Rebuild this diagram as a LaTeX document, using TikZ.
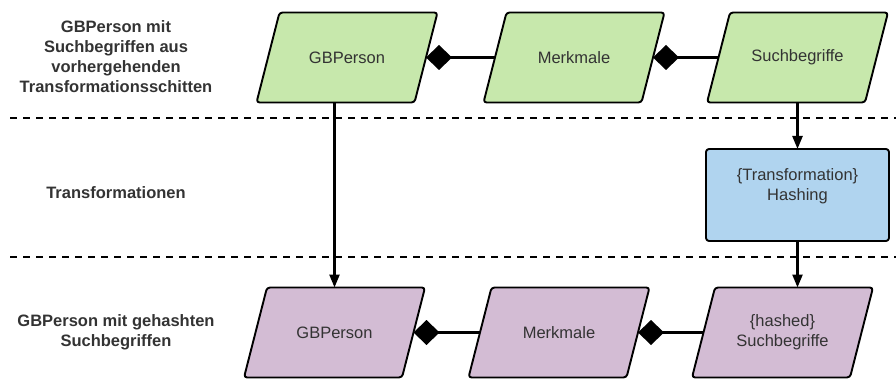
\documentclass[tikz,border=0pt]{standalone}
\usepackage{fontspec}
\setmainfont{Liberation Sans}
\usetikzlibrary{arrows.meta,backgrounds}
\definecolor{gfill}{RGB}{199,232,172}
\definecolor{bfill}{RGB}{176,212,239}
\definecolor{pfill}{RGB}{211,188,212}
\definecolor{txt}{RGB}{51,51,51}
\newcommand\paraframe[2]{%
  \begin{scope}[on background layer]
  \draw[frame, fill=#2] ([xshift=11.5pt]#1.north west) -- ([xshift=11.5pt]#1.north east)
     -- ([xshift=-11.5pt]#1.south east) -- ([xshift=-11.5pt]#1.south west) -- cycle;
  \end{scope}}
\begin{document}
\begin{tikzpicture}[x=1pt,y=-1pt,
  frame/.style={draw=black, line width=1.9pt, rounded corners=3pt, line join=round},
  para/.style={rectangle, minimum width=158pt, minimum height=90pt, inner sep=0pt, outer sep=0pt,
    font=\fontsize{16.5}{20}\selectfont, text=txt, align=center},
  transbox/.style={rectangle, frame, fill=bfill, minimum width=183pt, minimum height=92pt,
    inner sep=0pt, outer sep=0pt, font=\fontsize{16.5}{20}\selectfont, text=txt, align=center},
  lanelabel/.style={font=\bfseries\fontsize{16.5}{20}\selectfont, text=txt, align=center},
  sep/.style={line width=1.4pt, dash pattern=on 7pt off 6pt},
  flow/.style={line width=2.4pt, -{Triangle[length=13pt,width=10pt]}},
  part/.style={line width=2.4pt, -{Diamond[length=26pt,width=25pt]}}
]
\useasboundingbox (0,0) rectangle (896,379);

% lane labels
\node[lanelabel] (l1) at (116,57) {GBPerson mit\\Suchbegriffen aus\\vorhergehenden\\Transformationsschitten};
\node[lanelabel] (l2) at (116,193) {Transformationen};
\node[lanelabel] (l3) at (116,332) {GBPerson mit gehashten\\Suchbegriffen};

% separators
\draw[sep] (10,118) -- (896,118);
\draw[sep] (10,257) -- (896,257);

% top row
\node[para] (gb1) at (347,57.5) {GBPerson};
\node[para] (m1) at (574,57.5) {Merkmale};
\node[para] (s1) at (797.5,57.5) {Suchbegriffe};
\paraframe{gb1}{gfill}
\paraframe{m1}{gfill}
\paraframe{s1}{gfill}

% transformation
\node[transbox] (h) at (797.5,195) {\{Transformation\}\\Hashing\\\mbox{}};

% bottom row
\node[para] (gb2) at (334.5,332.5) {GBPerson};
\node[para] (m2) at (559,332.5) {Merkmale};
\node[para] (s2) at (782.5,332.5) {\{hashed\}\\Suchbegriffe};
\paraframe{gb2}{pfill}
\paraframe{m2}{pfill}
\paraframe{s2}{pfill}

% compositions
\draw[part] (m1.west) -- (gb1.east);
\draw[part] (s1.west) -- (m1.east);
\draw[part] (m2.west) -- (gb2.east);
\draw[part] (s2.west) -- (m2.east);

% flows
\draw[flow] (gb2.north |- gb1.south) -- (gb2.north);
\draw[flow] (s1.south) -- (h.north);
\draw[flow] (h.south) -- (h.south |- s2.north);
\end{tikzpicture}
\end{document}
